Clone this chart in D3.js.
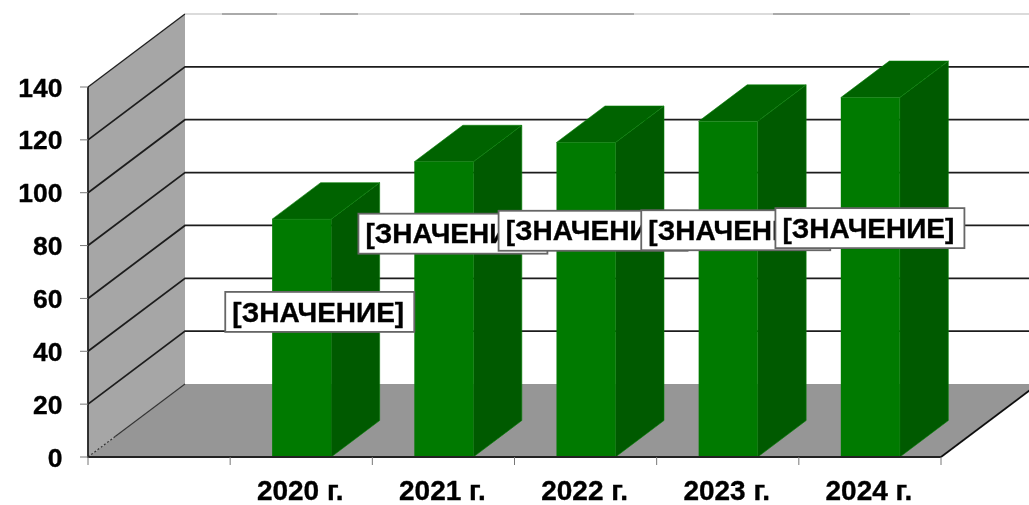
<!DOCTYPE html>
<html><head><meta charset="utf-8">
<script src="https://cdn.jsdelivr.net/npm/d3@7"></script>
<style>html,body{margin:0;padding:0;background:#fff}svg{display:block}text{font-family:"Liberation Sans",Arial,sans-serif;font-weight:bold;fill:#000;stroke:#000;stroke-width:.35px}</style>
</head><body><div id="c"></div>
<script>
const categories = ["", "2020 г.", "2021 г.", "2022 г.", "2023 г.", "2024 г."];
const years = ["2020 г.", "2021 г.", "2022 г.", "2023 г.", "2024 г."];
const values = [90, 111.7, 119, 127, 136];
const yTicks = [0, 20, 40, 60, 80, 100, 120, 140];
const labelText = "[ЗНАЧЕНИЕ]";
const labelValues = [54.9, 84.5, 85.6, 85.8, 86.6];
const labelShift = [18.5, 9.5, 7.5, 8, 0];

const W = 1029, H = 505;
const x = d3.scaleBand().domain(categories).range([88, 941]).paddingInner(0).paddingOuter(0);
const y = d3.scaleLinear().domain([0, 140]).range([457, 87]);
const depth = {dx: 97, dy: -73};
const barDepth = {dx: 48.5, dy: -36.5};
const barW = 59;

const svg = d3.select("#c").append("svg").attr("width", W).attr("height", H);
const defs = svg.append("defs");
defs.append("filter").attr("id","soft").attr("x",0).attr("y",0).attr("width",1).attr("height",1)
  .append("feGaussianBlur").attr("stdDeviation",0.45);
const root = svg.append("g").attr("filter","url(#soft)");
root.append("rect").attr("width",W).attr("height",H).attr("fill","#fff");
const poly = pts => pts.map(p => p.join(",")).join(" ");
const x0 = x.range()[0], x1 = x.range()[1];
const backR = x1 + depth.dx;

root.append("polygon").attr("points", poly([[x0,y(0)],[x0,y(140)],[x0+depth.dx,y(140)+depth.dy],[x0+depth.dx,y(0)+depth.dy]])).attr("fill","#a6a6a6");
root.append("polygon").attr("points", poly([[x0,y(0)],[x1,y(0)],[backR,y(0)+depth.dy],[x0+depth.dx,y(0)+depth.dy]])).attr("fill","#969696");

root.append("g").selectAll("path").data(yTicks.filter(d => d > 0 && d < 140)).join("path")
  .attr("d", d => `M${x0},${y(d)}L${x0+depth.dx},${y(d)+depth.dy}L${W+2},${y(d)+depth.dy}`)
  .attr("fill","none").attr("stroke","#1e1e1e").attr("stroke-width",1.8);
root.append("path").attr("d", `M${x0},${y(140)}L${x0+depth.dx},${y(140)+depth.dy}`).attr("stroke","#222").attr("stroke-width",1.4);
root.append("path").attr("d", `M${x0+depth.dx},${y(140)+depth.dy}L${W},${y(140)+depth.dy}`).attr("stroke","#cfcfcf").attr("stroke-width",1.6);
root.append("g").selectAll("line").data([[222,277],[320,358],[520,634],[773,910]]).join("line")
  .attr("x1",d=>d[0]).attr("x2",d=>d[1]).attr("y1",y(140)+depth.dy).attr("y2",y(140)+depth.dy).attr("stroke","#9a9a9a").attr("stroke-width",1.4);
const fx = t => x0 + depth.dx*t, fy = t => y(0) + depth.dy*t;
root.append("path").attr("d", `M${fx(0)},${fy(0)}L${fx(.28)},${fy(.28)}`).attr("stroke","#333").attr("stroke-width",1.2).attr("stroke-dasharray","2 2");
root.append("path").attr("d", `M${fx(.28)},${fy(.28)}L${fx(1)},${fy(1)}`).attr("stroke","#333").attr("stroke-width",1.1);
root.append("path").attr("d", `M${x1},${y(0)}L${backR},${y(0)+depth.dy}`).attr("stroke","#111").attr("stroke-width",1.8);

const bars = root.append("g").selectAll("g").data(years.map((c,i)=>({c,v:values[i]}))).join("g");
const bx = d => x(d.c) + (x.bandwidth() - barW)/2 + 0.4;
bars.append("polygon").attr("points", d => { const l=bx(d), r=l+barW; return poly([[r,y(0)],[r,y(d.v)],[r+barDepth.dx,y(d.v)+barDepth.dy],[r+barDepth.dx,y(0)+barDepth.dy]]); })
  .attr("fill","#005a00").attr("stroke","#0a800a").attr("stroke-width",0.6);
bars.append("polygon").attr("points", d => { const l=bx(d), r=l+barW; return poly([[l,y(d.v)],[r,y(d.v)],[r+barDepth.dx,y(d.v)+barDepth.dy],[l+barDepth.dx,y(d.v)+barDepth.dy]]); })
  .attr("fill","#006400").attr("stroke","#0a800a").attr("stroke-width",0.6);
bars.append("rect").attr("x", bx).attr("y", d=>y(d.v)).attr("width",barW).attr("height",d=>y(0)-y(d.v)).attr("fill","#047a04");

root.append("path").attr("d",`M${x0},${y(140)}L${x0},${y(0)}L${x1},${y(0)}`).attr("fill","none").attr("stroke","#222").attr("stroke-width",1.8);
root.append("g").selectAll("line").data(yTicks).join("line")
  .attr("x1",x0-8).attr("x2",x0).attr("y1",d=>y(d)).attr("y2",d=>y(d)).attr("stroke","#777").attr("stroke-width",1);
const xt = categories.map(c=>x(c)).concat([x1]);
root.append("g").selectAll("line").data(xt).join("line")
  .attr("x1",d=>d).attr("x2",d=>d).attr("y1",y(0)).attr("y2",y(0)+8).attr("stroke","#777").attr("stroke-width",1);
root.append("g").selectAll("text").data(yTicks).join("text")
  .attr("x",62.5).attr("y",d=>y(d)).attr("dy","0.36em").attr("text-anchor","end").attr("font-size",26.5).text(d=>d);
root.append("g").selectAll("text").data(years).join("text")
  .attr("x",d=>x(d)+x.bandwidth()/2-1).attr("y",500).attr("text-anchor","middle").attr("font-size",28).text(d=>d);

const boxW = 189, boxH = 40;
const lab = root.append("g").selectAll("g").data(years).join("g")
  .attr("transform",(d,i)=>`translate(${x(d)+x.bandwidth()/2+labelShift[i]},${y(labelValues[i])})`);
lab.append("rect").attr("x",-boxW/2).attr("y",-boxH/2).attr("width",boxW).attr("height",boxH).attr("fill","#fff").attr("stroke","#666").attr("stroke-width",1.8);
lab.append("text").attr("x",-1.5).attr("y",-0.5).attr("text-anchor","middle").attr("dy","0.36em").attr("font-size",28).text(labelText);
</script></body></html>
